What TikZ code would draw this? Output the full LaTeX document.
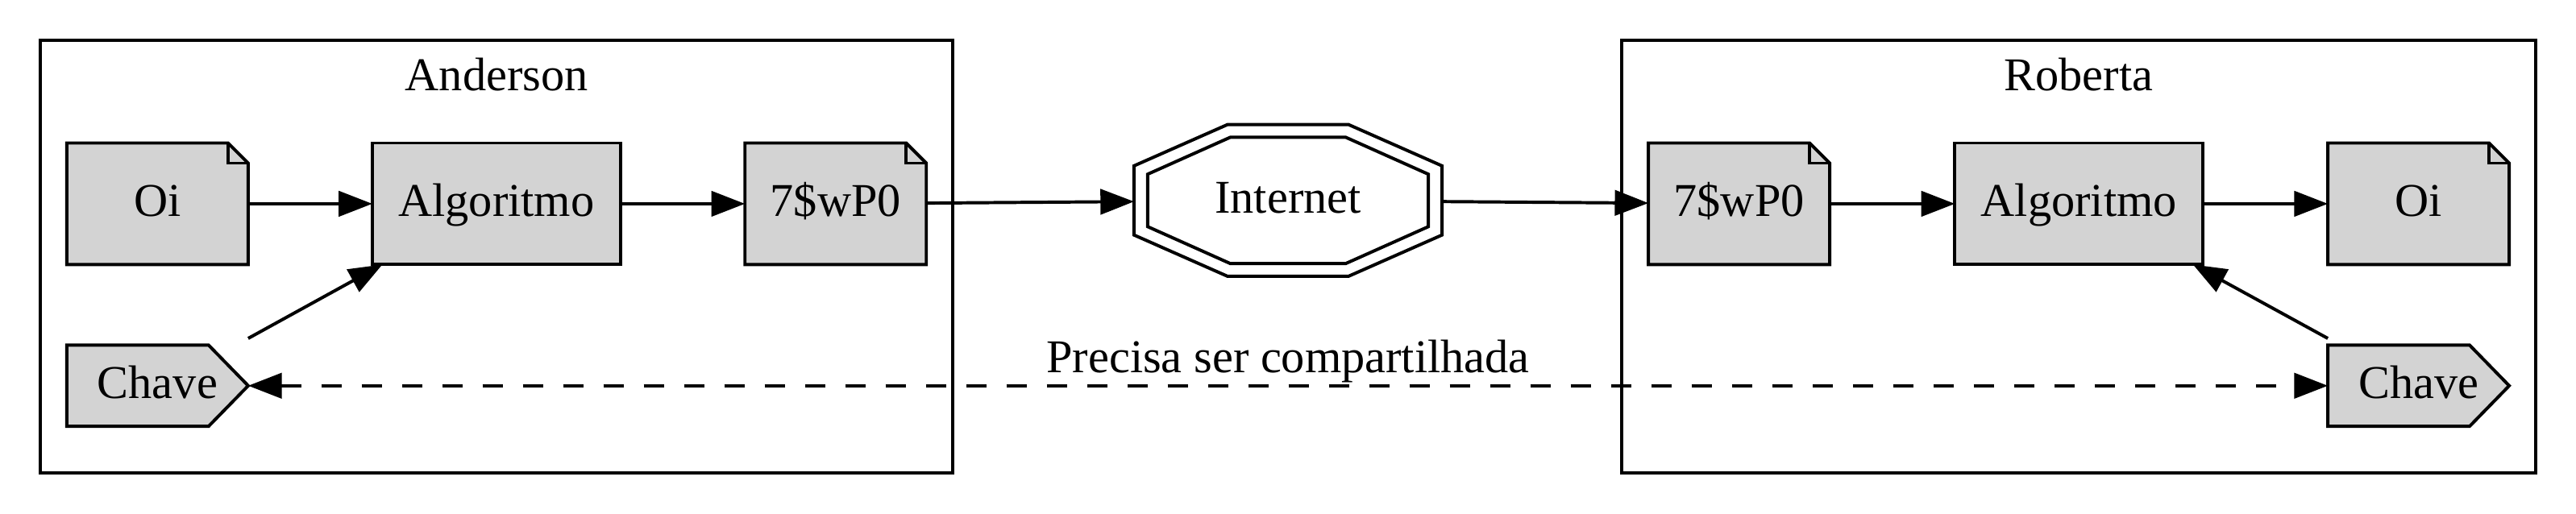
\documentclass[tikz,border=0pt]{standalone}
\usepackage{fontspec}
\setmainfont{Liberation Serif}
\usetikzlibrary{arrows.meta,calc,backgrounds}
\definecolor{nodegray}{HTML}{D3D3D3}
\tikzset{
  base/.style={inner sep=0pt, outer sep=0pt, text height=10pt, text depth=2.6pt},
  doc/.style={base, fill=nodegray, minimum width=54pt, minimum height=36.2pt},
  box/.style={base, fill=nodegray, draw, minimum width=73.9pt, minimum height=36.2pt},
  key/.style={base, minimum width=54pt, minimum height=24.2pt},
  inet/.style={base, minimum width=91.7pt, minimum height=45.1pt},
}
\begin{document}
\begin{tikzpicture}[x=1pt, y=1pt, line width=0.95pt,
    font=\fontsize{14pt}{16pt}\selectfont,
    >={Triangle[length=10pt,width=7.5pt]}]
  \useasboundingbox (0,0) rectangle (767,153.1);
  \draw (12,12.2) rectangle (283.7,141.1);
  \draw (482.9,12.2) rectangle (755,141.1);
  \node[anchor=base] (labA) at (147.9,126) {Anderson};
  \node[anchor=base] (labB) at (618.9,126) {Roberta};

  \node[doc] (oiA) at (46.9,92.4) {Oi};
  \node[box] (algA) at (147.8,92.4) {Algoritmo};
  \node[doc] (cifA) at (248.8,92.4) {7\$wP0};
  \node[key] (chaveA) at (46.9,38.2) {Chave};
  \node[inet] (net) at (383.5,93.4) {Internet};
  \node[doc] (cifB) at (517.8,92.4) {7\$wP0};
  \node[box] (algB) at (619,92.4) {Algoritmo};
  \node[doc] (oiB) at (720.1,92.4) {Oi};
  \node[key] (chaveB) at (720.1,38.2) {Chave};

  \foreach \n in {oiA,cifA,cifB,oiB} {
    \fill[white] ([xshift=-6pt]\n.north east) -- (\n.north east) -- ([yshift=-6pt]\n.north east) -- cycle;
    \draw (\n.south west) -- (\n.north west) -- ([xshift=-6pt]\n.north east)
      -- ([yshift=-6pt]\n.north east) -- (\n.south east) -- cycle;
    \draw ([xshift=-6pt]\n.north east) -- ([xshift=-6pt,yshift=-6pt]\n.north east)
      -- ([yshift=-6pt]\n.north east);
  }
  \begin{scope}[on background layer]
    \foreach \n in {chaveA,chaveB}
      \draw[fill=nodegray, line width=0.95pt] (\n.south west) -- (\n.north west)
        -- ([xshift=-11.8pt]\n.north east) -- (\n.east) -- ([xshift=-11.8pt]\n.south east) -- cycle;
  \end{scope}
  \foreach \a/\b/\c/\d in {18/22.6/45.85/10.3, 17.2/18.8/41.8/7.8}
    \draw[shift={(net.center)}] (-\a,\b) -- (\a,\b) -- (\c,\d) -- (\c,-\d)
      -- (\a,-\b) -- (-\a,-\b) -- (-\c,-\d) -- (-\c,\d) -- cycle;

  \draw[->] (oiA) -- (algA);
  \draw[->] (algA) -- (cifA);
  \draw[->] (cifA) -- (net);
  \draw[->] (net) -- (cifB);
  \draw[->] (cifB) -- (algB);
  \draw[->] (algB) -- (oiB);
  \draw[->] ($(chaveA.north east)+(0,2pt)$) -- ($(algA.south west)+(3pt,0)$);
  \draw[->] ($(chaveB.north west)+(0,2pt)$) -- ($(algB.south east)+(-3pt,0)$);
  \draw[<->, dash pattern=on 6pt off 6pt] (chaveA.east) -- (chaveB.west)
    node[midway, anchor=base, yshift=3.8pt] (share) {Precisa ser compartilhada};
\end{tikzpicture}
\end{document}
